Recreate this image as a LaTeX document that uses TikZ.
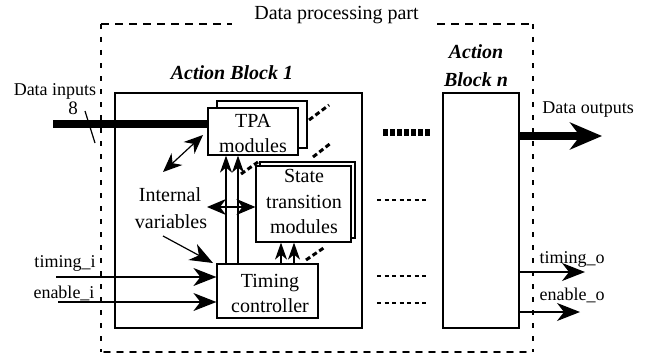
\documentclass[tikz,border=0pt]{standalone}
\usepackage{fontspec}
\setmainfont{Liberation Serif}
\usetikzlibrary{arrows.meta,calc}

\begin{document}
\begin{tikzpicture}[x=1pt,y=-1pt,
  lbl/.style={anchor=base,inner sep=0pt,font=\fontsize{20}{24}\selectfont},
  sml/.style={anchor=base,inner sep=0pt,font=\fontsize{18}{21}\selectfont},
  ttl/.style={anchor=base,inner sep=0pt,font=\fontsize{20}{24}\selectfont\bfseries\itshape},
  block/.style={draw,line width=2.4pt,inner sep=0pt},
  module/.style={draw,fill=white,line width=1.2pt,inner sep=0pt},
  wire/.style={line width=1.2pt},
  bus/.style={line width=7.5pt},
  stack/.style={line width=3pt,dash pattern=on 5pt off 3pt},
  gap/.style={line width=1.1pt,dash pattern=on 4pt off 3.5pt},
  gapbus/.style={line width=7pt,dash pattern=on 4.5pt off 2.5pt},
  frame/.style={line width=1.2pt},
  bigtip/.tip={Stealth[length=23pt,width=18pt,inset=7pt]},
  midtip/.tip={Stealth[length=19pt,width=16pt,inset=6pt]},
  uptip/.tip={Stealth[length=17pt,width=12pt,inset=5pt]},
  outtip/.tip={Stealth[length=32pt,width=27pt,inset=10pt]},
]
\useasboundingbox (0,0) rectangle (647,353);

% frame of the data processing part
\draw[frame,dash pattern=on 8pt off 6pt] (101,24) -- (232,24);
\draw[frame,dash pattern=on 8pt off 6pt] (437,24) -- (533,24);
\draw[frame,dash pattern=on 5pt off 8pt] (101,24) -- (101,352);
\draw[frame,dash pattern=on 5pt off 8pt] (533,24) -- (533,352);
\draw[line width=1.6pt,line cap=round,dash pattern=on 6pt off 7pt] (104,352) -- (528,352);
\node[lbl] (title) at (336.5,20) {Data processing part};

% action blocks
\node[block,minimum width=247pt,minimum height=235pt] (ab1) at (238.5,210.5) {};
\node[ttl] (ab1lbl) at (232,79) {Action Block 1};
\node[block,minimum width=76pt,minimum height=235pt] (abn) at (481,210.5) {};
\node[ttl] (abnlbl1) at (476,59) {Action};
\node[ttl] (abnlbl2) at (476,86) {Block n};

% TPA modules
\node[module,minimum width=90pt,minimum height=47pt] (tpaback) at (262,124.5) {};
\node[module,minimum width=90pt,minimum height=47pt] (tpa) at (253,131.5) {};
\node[lbl] (tpa1) at (253,127) {TPA};
\node[lbl] (tpa2) at (253,152) {modules};

% state transition modules
\node[module,minimum width=95pt,minimum height=76pt] (stback) at (307.5,200) {};
\node[module,minimum width=95pt,minimum height=76pt] (st) at (303.5,204) {};
\node[lbl] (st1) at (304,182) {State};
\node[lbl] (st2) at (304,208) {transition};
\node[lbl] (st3) at (304,233) {modules};

% timing controller
\node[module,minimum width=101pt,minimum height=54pt] (tc) at (267.5,291) {};
\node[lbl] (tc1) at (270,287) {Timing};
\node[lbl] (tc2) at (270,312) {controller};

% internal variables
\node[lbl] (iv1) at (170,201) {Internal};
\node[lbl] (iv2) at (171,228) {variables};

% stacking hints
\draw[stack] (309,120) -- (329,105);
\draw[stack] (313,157) -- (331,143);
\draw[stack] (241,174) -- (258,162);
\draw[stack] (306,260) -- (325,247);

% data input bus
\coordinate (din) at (53,124);
\draw[bus] (din) -- (din -| tpa.west);
\coordinate (sl1) at (85,111);
\coordinate (sl2) at (95,143);
\draw[wire] (sl1) -- (sl2);
\node[sml] (dinlbl) at (55,95) {Data inputs};
\node[lbl,font=\fontsize{19}{22}\selectfont] (width8) at (73,114) {8};

% control inputs
\coordinate (ti) at (56,277);
\coordinate (ei) at (58,302);
\draw[wire,-bigtip] (ti) -- (ti -| tc.west);
\draw[wire,-bigtip] (ei) -- (ei -| tc.west);
\node[sml] (tilbl) at (65,267) {timing\_i};
\node[sml] (eilbl) at (64,298) {enable\_i};

% timing controller to modules
\coordinate (v1) at (226,264);
\coordinate (v2) at (238,264);
\coordinate (v3) at (281,264);
\coordinate (v4) at (294,264);
\draw[wire,-uptip] (v1) -- (v1 |- tpa.south);
\draw[wire,-uptip] (v2) -- (v2 |- tpa.south);
\draw[wire,-uptip] (v3) -- (v3 |- st.south);
\draw[wire,-uptip] (v4) -- (v4 |- st.south);

% internal variable accesses
\coordinate (h1) at (207,207);
\draw[wire,midtip-midtip] (h1) -- (h1 -| st.west);
\coordinate (d1) at (163,172);
\coordinate (d2) at (203,135);
\draw[wire,midtip-midtip] (d1) -- (d2);
\coordinate (iva) at (163,236);
\coordinate (ivb) at (213,263);
\draw[wire,-bigtip] (iva) -- (ivb);

% intermediate action blocks
\coordinate (g0) at (383,132);
\coordinate (g1) at (377,200);
\coordinate (g2) at (377,276);
\coordinate (g3) at (377,303);
\draw[gapbus] (g0) -- (430,132);
\draw[gap] (g1) -- (427,200);
\draw[gap] (g2) -- (427,276);
\draw[gap] (g3) -- (427,303);

% outputs
\coordinate (dout) at (602,136);
\coordinate (tout) at (585,272);
\coordinate (eout) at (580,312);
\draw[bus,-outtip] (dout -| abn.east) -- (dout);
\draw[wire,-bigtip] (tout -| abn.east) -- (tout);
\draw[wire,-bigtip] (eout -| abn.east) -- (eout);
\node[sml] (doutlbl) at (588,113) {Data outputs};
\node[sml] (toutlbl) at (572,263) {timing\_o};
\node[sml] (eoutlbl) at (572,300) {enable\_o};
\end{tikzpicture}
\end{document}
